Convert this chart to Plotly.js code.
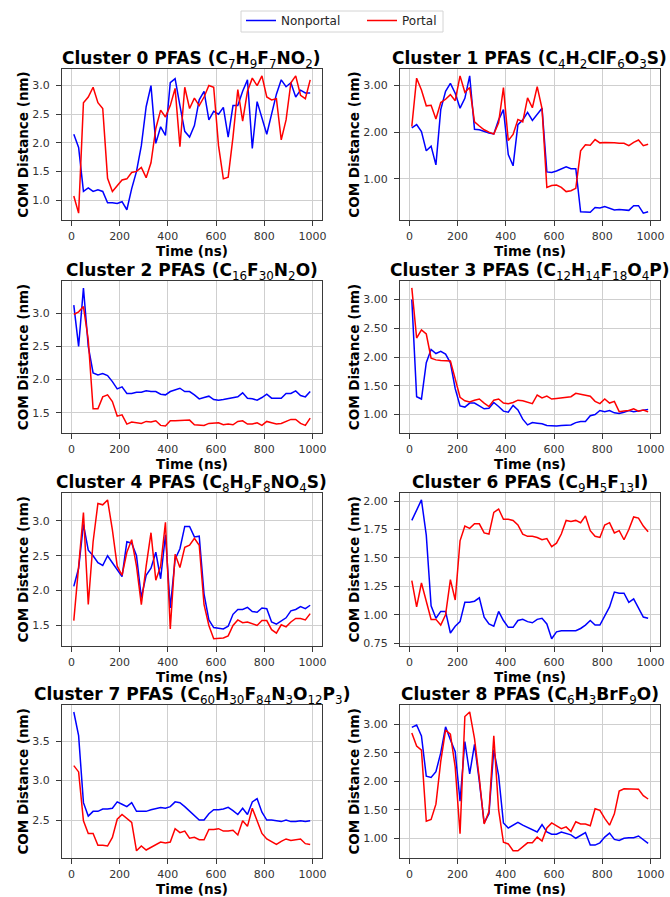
<!DOCTYPE html>
<html>
<head>
<meta charset="utf-8">
<script src="https://cdn.plot.ly/plotly-3.0.1.min.js"></script>
<style>html,body{margin:0;padding:0;background:#fff;}#chart{width:670px;height:897px;}</style>
</head>
<body>
<div id="chart"></div>
<script>
const timeNs = [10,30,50,70,90,110,130,150,170,190,210,230,250,270,290,310,330,350,370,390,410,430,450,470,490,510,530,550,570,590,610,630,650,670,690,710,730,750,770,790,810,830,850,870,890,910,930,950,970,990];

const clusterNames = ["Cluster 0","Cluster 1","Cluster 2","Cluster 3","Cluster 4","Cluster 6","Cluster 7","Cluster 8"];
// formula parts: [element, subscript] pairs
const formulaParts = [
  [["C","7"],["H","9"],["F","7"],["NO","2"]],
  [["C","4"],["H","2"],["ClF","6"],["O","3"],["S",""]],
  [["C","16"],["F","30"],["N","2"],["O",""]],
  [["C","12"],["H","14"],["F","18"],["O","4"],["P",""]],
  [["C","8"],["H","9"],["F","8"],["NO","4"],["S",""]],
  [["C","9"],["H","5"],["F","13"],["I",""]],
  [["C","60"],["H","30"],["F","84"],["N","3"],["O","12"],["P","3"]],
  [["C","6"],["H","3"],["BrF","9"],["O",""]]
];

const nonportal0 = [2.15,1.92,1.15,1.21,1.15,1.18,1.15,0.95,0.95,0.94,0.97,0.83,1.2,1.5,1.95,2.63,3.0,1.99,2.28,2.13,3.05,3.12,2.65,2.2,2.1,2.3,2.75,2.9,2.4,2.55,2.5,2.62,2.1,2.65,2.65,2.9,3.1,1.9,2.72,2.45,2.15,2.5,2.85,3.1,2.98,3.05,2.8,2.92,2.87,2.87];
const portal0 = [1.07,0.77,2.7,2.8,2.97,2.7,2.6,1.38,1.15,1.25,1.35,1.37,1.48,1.5,1.57,1.39,1.65,2.25,2.57,2.45,2.65,2.95,1.93,2.97,2.6,2.78,2.65,2.8,3.0,2.97,1.95,1.37,1.4,2.1,2.93,2.38,2.9,3.13,3.0,3.17,2.8,2.75,2.77,2.05,2.4,3.05,3.17,2.83,2.77,3.1];

const nonportal1 = [2.09,2.16,2.01,1.6,1.7,1.3,2.48,2.87,3.04,2.83,2.51,2.72,3.2,2.06,2.05,2.01,1.98,1.96,2.26,2.48,1.52,1.28,2.16,2.26,2.42,2.25,2.39,2.51,1.15,1.14,1.17,1.22,1.26,1.22,1.22,0.3,0.3,0.29,0.39,0.38,0.41,0.37,0.34,0.35,0.34,0.33,0.43,0.43,0.27,0.3];
const portal1 = [2.12,3.15,2.9,2.56,2.57,2.28,2.63,2.7,2.8,2.67,3.2,2.85,2.95,2.22,2.13,2.05,2.0,1.96,2.2,2.95,1.82,1.95,2.27,2.22,2.73,2.52,2.97,2.5,0.82,0.86,0.87,0.82,0.73,0.75,0.8,1.6,1.73,1.72,1.84,1.77,1.78,1.78,1.77,1.76,1.76,1.71,1.78,1.83,1.71,1.74];

const nonportal2 = [3.12,2.5,3.38,2.5,2.1,2.07,2.09,2.06,1.97,1.86,1.89,1.79,1.79,1.81,1.81,1.83,1.82,1.82,1.78,1.77,1.82,1.85,1.87,1.82,1.82,1.77,1.71,1.73,1.75,1.7,1.69,1.7,1.71,1.72,1.74,1.8,1.72,1.71,1.69,1.73,1.78,1.72,1.72,1.72,1.79,1.79,1.83,1.76,1.74,1.82];
const portal2 = [2.98,3.02,3.1,2.6,1.56,1.56,1.74,1.77,1.67,1.45,1.47,1.33,1.36,1.35,1.34,1.37,1.36,1.38,1.31,1.3,1.38,1.38,1.38,1.38,1.39,1.32,1.31,1.31,1.34,1.35,1.35,1.32,1.33,1.32,1.37,1.38,1.33,1.33,1.35,1.31,1.37,1.35,1.33,1.34,1.37,1.4,1.4,1.34,1.31,1.42];

const nonportal3 = [3.0,1.31,1.27,1.9,2.13,2.06,2.1,2.05,1.9,1.45,1.15,1.13,1.2,1.2,1.15,1.1,1.11,1.21,1.14,1.06,1.04,1.16,1.08,0.92,0.82,0.86,0.85,0.84,0.81,0.8,0.8,0.81,0.82,0.82,0.86,0.88,0.88,0.98,1.0,1.07,1.05,1.07,1.03,1.02,1.04,1.07,1.05,1.06,1.07,1.09];
const portal3 = [3.2,2.33,2.47,2.4,1.98,1.95,1.94,1.93,1.93,1.62,1.3,1.24,1.22,1.25,1.27,1.2,1.14,1.25,1.27,1.2,1.19,1.21,1.25,1.24,1.22,1.19,1.34,1.29,1.32,1.27,1.28,1.29,1.3,1.31,1.37,1.35,1.33,1.32,1.23,1.19,1.27,1.2,1.23,1.05,1.06,1.07,1.1,1.06,1.08,1.05];

const nonportal4 = [2.06,2.32,2.95,2.58,2.5,2.4,2.36,2.5,2.4,2.3,2.2,2.7,2.68,2.5,1.9,2.22,2.32,2.55,2.17,2.8,1.75,2.45,2.6,2.92,2.92,2.77,2.78,1.95,1.58,1.47,1.46,1.45,1.49,1.66,1.73,1.73,1.76,1.7,1.69,1.75,1.74,1.55,1.52,1.56,1.61,1.71,1.73,1.77,1.74,1.79];
const portal4 = [1.57,2.3,3.12,1.8,2.7,3.25,3.23,3.3,2.87,2.35,2.22,2.55,2.73,2.35,1.8,2.35,2.83,2.15,2.35,2.98,1.45,2.52,2.33,2.62,2.65,2.75,2.65,1.8,1.5,1.31,1.32,1.32,1.35,1.5,1.58,1.54,1.55,1.52,1.5,1.57,1.57,1.44,1.39,1.51,1.48,1.55,1.6,1.6,1.58,1.67];

const nonportal6 = [1.83,1.92,2.01,1.7,1.08,0.97,1.03,1.03,0.84,0.9,0.94,1.11,1.11,1.12,1.15,0.98,0.92,0.9,1.03,0.95,0.89,0.89,0.95,0.96,0.94,0.93,0.96,0.97,0.92,0.79,0.85,0.86,0.86,0.86,0.86,0.88,0.91,0.95,0.91,0.91,0.99,1.07,1.2,1.19,1.19,1.11,1.14,1.06,0.98,0.97];
const portal6 = [1.3,1.07,1.28,1.12,0.96,0.96,0.91,1.0,1.31,1.13,1.65,1.78,1.76,1.8,1.8,1.72,1.71,1.9,1.93,1.84,1.84,1.83,1.79,1.71,1.69,1.69,1.68,1.66,1.67,1.6,1.63,1.71,1.83,1.82,1.83,1.81,1.87,1.74,1.69,1.68,1.79,1.81,1.72,1.74,1.66,1.75,1.86,1.85,1.78,1.73];

const nonportal7 = [3.87,3.57,2.72,2.55,2.61,2.61,2.64,2.64,2.65,2.73,2.7,2.67,2.72,2.61,2.61,2.61,2.63,2.65,2.66,2.65,2.67,2.73,2.72,2.67,2.61,2.56,2.5,2.5,2.58,2.63,2.63,2.64,2.66,2.62,2.57,2.65,2.57,2.73,2.77,2.6,2.5,2.5,2.49,2.48,2.5,2.48,2.48,2.49,2.48,2.49];
const portal7 = [3.19,3.11,2.49,2.33,2.33,2.18,2.18,2.17,2.28,2.51,2.57,2.52,2.47,2.11,2.17,2.12,2.15,2.19,2.22,2.21,2.22,2.39,2.34,2.36,2.27,2.28,2.25,2.25,2.38,2.38,2.39,2.36,2.36,2.37,2.31,2.49,2.42,2.65,2.48,2.33,2.26,2.23,2.19,2.23,2.26,2.24,2.25,2.26,2.2,2.19];

const nonportal8 = [2.95,2.99,2.8,2.09,2.07,2.17,2.5,2.96,2.73,2.52,1.65,2.7,2.13,2.65,2.0,1.27,1.43,2.56,2.1,1.27,1.18,1.23,1.28,1.23,1.19,1.15,1.11,1.24,1.11,1.07,1.07,1.11,1.08,1.06,1.0,1.05,1.1,0.88,0.88,0.92,1.02,1.09,0.98,0.96,1.0,1.01,1.01,1.04,0.97,0.91];
const portal8 = [2.85,2.62,2.55,1.3,1.33,1.6,2.35,2.9,2.83,2.25,1.08,3.14,3.22,2.75,2.05,1.25,1.47,2.8,1.5,0.93,0.9,0.78,0.78,0.85,0.92,0.92,1.02,0.95,1.18,1.27,1.22,1.17,1.2,1.12,1.29,1.25,1.25,1.22,1.52,1.49,1.35,1.23,1.43,1.83,1.87,1.87,1.87,1.86,1.75,1.69];

const nonportalSeries = [nonportal0,nonportal1,nonportal2,nonportal3,nonportal4,nonportal6,nonportal7,nonportal8];
const portalSeries = [portal0,portal1,portal2,portal3,portal4,portal6,portal7,portal8];
const yTickFormats = [".1f",".2f",".1f",".2f",".1f",".2f",".1f",".2f"];
const yTickSteps = [0.5,1,0.5,0.5,0.5,0.25,0.5,0.5];

const colDomains = [[0.0925,0.4806],[0.597,0.985]];
const rowDomains = [[0.7547,0.9231],[0.5173,0.6867],[0.2802,0.4504],[0.0438,0.2140]];

const FONT = "DejaVu Sans, sans-serif";
const W = 670, H = 897;
const traces = [];
const layout = {
  width: W, height: H,
  margin: {l:0, r:0, t:0, b:0},
  paper_bgcolor: "#ffffff", plot_bgcolor: "#ffffff",
  showlegend: true,
  legend: {orientation: "h", x: 241 / W, xanchor: "left", y: 1 - 6 / H, yanchor: "top",
           borderwidth: 0, bgcolor: "rgba(0,0,0,0)",
           font: {family: FONT, size: 12, color: "#262626"}, itemwidth: 30,
           entrywidth: 76, entrywidthmode: "pixels"},
  shapes: [{type: "rect", xref: "paper", yref: "paper",
            x0: 241 / W, x1: 443 / W, y0: 1 - 32 / H, y1: 1 - 11 / H,
            line: {color: "#d4d4d4", width: 1}, fillcolor: "rgba(255,255,255,0)", layer: "below"}],
  annotations: [],
  font: {family: FONT, color: "#262626"}
};

function padRange(arrs) {
  let lo = Infinity, hi = -Infinity;
  arrs.forEach(a => a.forEach(v => { if (v < lo) lo = v; if (v > hi) hi = v; }));
  const p = 0.05 * (hi - lo);
  return [lo - p, hi + p];
}

function formulaHtml(parts) {
  return parts.map(p => p[0] + (p[1] ? "<sub><span style=\"font-weight:normal\">" + p[1] + "</span></sub>" : "")).join("");
}

for (let k = 0; k < 8; k++) {
  const row = Math.floor(k / 2), col = k % 2;
  const n = k + 1;
  const xa = "x" + (n === 1 ? "" : n), ya = "y" + (n === 1 ? "" : n);
  const xk = "xaxis" + (n === 1 ? "" : n), yk = "yaxis" + (n === 1 ? "" : n);
  traces.push({x: timeNs, y: nonportalSeries[k], xaxis: xa, yaxis: ya, type: "scatter", mode: "lines",
    name: "Nonportal", line: {color: "#0000ff", width: 1.5}, showlegend: k === 0, legendgroup: "np"});
  traces.push({x: timeNs, y: portalSeries[k], xaxis: xa, yaxis: ya, type: "scatter", mode: "lines",
    name: "Portal", line: {color: "#ff0000", width: 1.5}, showlegend: k === 0, legendgroup: "p"});
  const common = {showline: true, mirror: true, linecolor: "#3a3a3a", linewidth: 1,
    showgrid: true, gridcolor: "#cfcfcf", gridwidth: 1, zeroline: false,
    ticks: "outside", ticklen: 5, tickwidth: 1, tickcolor: "#3a3a3a",
    tickfont: {family: FONT, size: 11, color: "#333333"}};
  layout[xk] = Object.assign({}, common, {domain: colDomains[col], anchor: ya,
    range: padRange([timeNs]), tickmode: "linear", tick0: 0, dtick: 200, ticklabelstandoff: 1,
    title: {text: "<b>Time (ns)</b>", font: {family: FONT, size: 13.5, color: "#000000"}, standoff: 2}});
  layout[yk] = Object.assign({}, common, {domain: rowDomains[row], anchor: xa,
    range: padRange([nonportalSeries[k], portalSeries[k]]), tickmode: "linear", tick0: 0,
    dtick: yTickSteps[k], tickformat: yTickFormats[k], ticklabelstandoff: 4,
    title: {text: "<b>COM Distance (nm)</b>", font: {family: FONT, size: 13.5, color: "#000000"}, standoff: 0}});
  layout.annotations.push({
    text: "<b>" + clusterNames[k] + " PFAS (" + formulaHtml(formulaParts[k]) + ")</b>",
    xref: "paper", yref: "paper",
    x: (colDomains[col][0] + colDomains[col][1]) / 2, y: rowDomains[row][1],
    xanchor: "center", yanchor: "bottom", yshift: -4, showarrow: false,
    font: {family: FONT, size: 17, color: "#000000"}
  });
}

Plotly.newPlot("chart", traces, layout, {displayModeBar: false, staticPlot: true});
</script>
</body>
</html>
